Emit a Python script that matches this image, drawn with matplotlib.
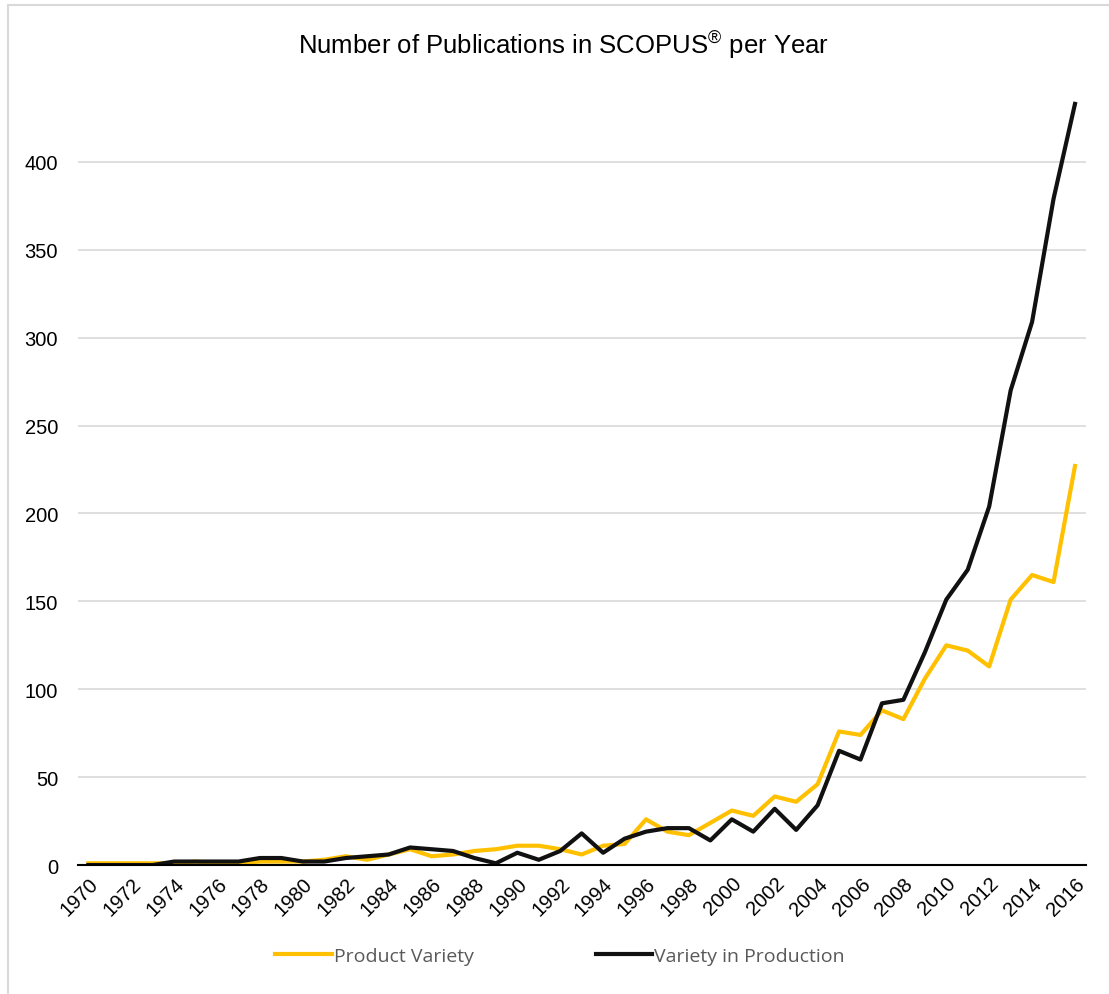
import numpy as np
import matplotlib
matplotlib.use("Agg")
from matplotlib import pyplot as plt
from matplotlib.lines import Line2D

years = list(range(1970, 2017))
product_variety = [1, 1, 1, 1, 1, 2, 1, 1, 2, 2, 2, 3, 5, 3, 6, 9, 5, 6, 8, 9,
                   11, 11, 9, 6, 11, 12, 26, 19, 17, 24, 31, 28, 39, 36, 46, 76, 74, 88, 83, 106,
                   125, 122, 113, 151, 165, 161, 227]
variety_in_production = [0, 0, 0, 0, 2, 2, 2, 2, 4, 4, 2, 2, 4, 5, 6, 10, 9, 8, 4, 1,
                         7, 3, 8, 18, 7, 15, 19, 21, 21, 14, 26, 19, 32, 20, 34, 65, 60, 92, 94, 121,
                         151, 168, 204, 270, 309, 379, 433]
yticks = [0, 50, 100, 150, 200, 250, 300, 350, 400]

plt.rcParams['font.family'] = ['Liberation Sans', 'DejaVu Sans']
plt.rcParams['mathtext.fontset'] = 'custom'
plt.rcParams['mathtext.rm'] = 'Liberation Sans'

fig = plt.figure(figsize=(11.09, 9.95), dpi=100)
ax = fig.add_axes([0.070, 0.1296, 0.909, 0.795])

ax.plot(years, product_variety, color='#FFC000', lw=3, label='Product Variety')
ax.plot(years, variety_in_production, color='#111111', lw=3, label='Variety in Production')

ax.set_xlim(1969.5, 2016.5)
ax.set_ylim(0, 450)
ax.set_yticks(yticks)
ax.set_xticks(years[::2])
ax.set_xticklabels([str(y) for y in years[::2]], rotation=45, ha='right', rotation_mode='anchor')
ax.tick_params(axis='both', length=0, labelsize=14.5, colors='#000000')
ax.tick_params(axis='x', pad=6)
ax.tick_params(axis='y', pad=14)
ax.grid(axis='y', color='#D9D9D9', lw=1.2)
ax.set_axisbelow(True)
for s in ['top', 'right', 'left']:
    ax.spines[s].set_visible(False)
ax.spines['bottom'].set_color('#000000')
ax.spines['bottom'].set_linewidth(1.5)

fig.text(0.508, 0.955, r'Number of Publications in SCOPUS$^{\circledR}$ per Year',
         ha='center', va='center', fontsize=18.5)

leg = fig.legend(loc='center', bbox_to_anchor=(0.505, 0.038), ncol=2, frameon=False,
                 handlelength=2.9, handletextpad=0.1, columnspacing=6.3,
                 prop={'family': 'Open Sans', 'size': 14})
for t in leg.get_texts():
    t.set_color('#595959')

# chart frame, only left and top edges show in the crop
fig.add_artist(Line2D([0.0075, 0.0075], [0, 0.994], transform=fig.transFigure, color='#D9D9D9', lw=1.5))
fig.add_artist(Line2D([0.0075, 1], [0.994, 0.994], transform=fig.transFigure, color='#D9D9D9', lw=1.5))

fig.savefig('out.png', dpi=100)
